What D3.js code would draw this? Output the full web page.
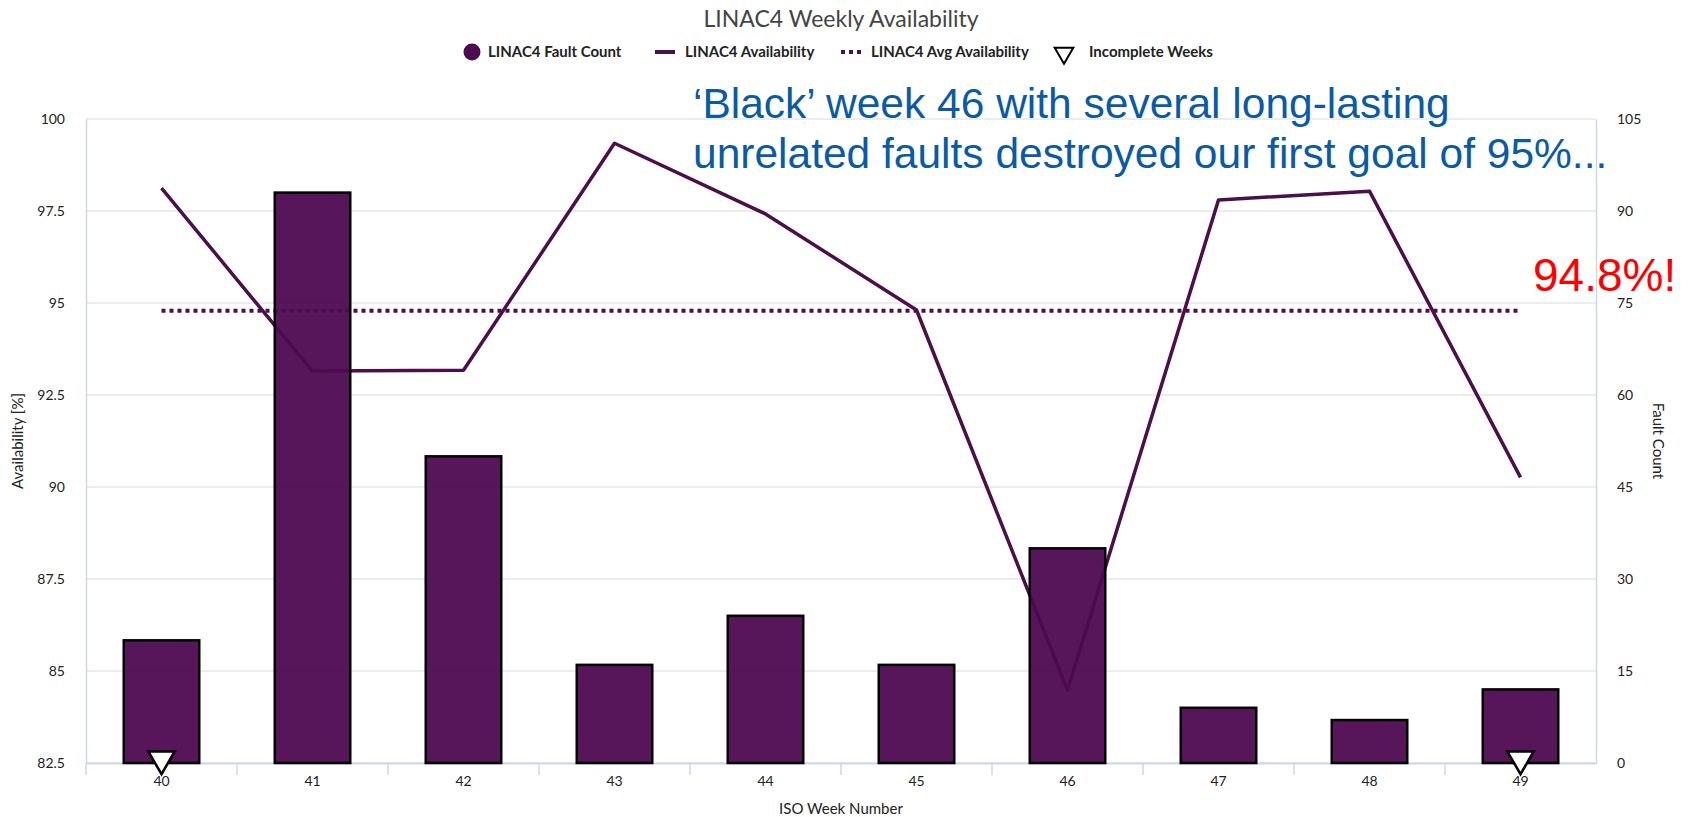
<!DOCTYPE html>
<html>
<head>
<meta charset="utf-8">
<script src="https://cdn.jsdelivr.net/npm/d3@7"></script>
<style>
  body { margin: 0; background: #fff; }
  #chart { width: 1694px; height: 817px; }
  text { font-family: Lato, "Open Sans", sans-serif; fill: #222; }
  .axis path, .axis line { stroke: #cdd6ea; }
  .axis text { font-size: 14px; fill: #222; }
</style>
</head>
<body>
<div id="chart"></div>
<script>
// data
const weeks = ["40", "41", "42", "43", "44", "45", "46", "47", "48", "49"];
const faultCount = [20, 93, 50, 16, 24, 16, 35, 9, 7, 12];
const availability = [98.12, 93.15, 93.17, 99.34, 97.42, 94.81, 84.48, 97.8, 98.04, 90.26];
const avgAvailability = 94.79;
const incompleteWeeks = ["40", "49"];
const leftTicks = [82.5, 85, 87.5, 90, 92.5, 95, 97.5, 100];
const rightTicks = [0, 15, 30, 45, 60, 75, 90, 105];

const width = 1694, height = 817;
const margin = {top: 119, left: 86, right: 98, bottom: 54};
const barColor = "#4d0a50", lineColor = "#4b104c";

const svg = d3.select("#chart").append("svg")
    .attr("width", width)
    .attr("height", height);

// scales
const xScale = d3.scaleBand()
    .domain(weeks)
    .range([margin.left, width - margin.right])
    .paddingInner(0.5)
    .paddingOuter(0.25);

const yLeft = d3.scaleLinear()
    .domain([82.5, 100])
    .range([height - margin.bottom, margin.top]);

const yRight = d3.scaleLinear()
    .domain([0, 105])
    .range([height - margin.bottom, margin.top]);

// gridlines
svg.append("g")
    .selectAll("line")
    .data(leftTicks)
    .enter()
    .append("line")
        .attr("x1", margin.left)
        .attr("x2", width - margin.right)
        .attr("y1", d => yLeft(d))
        .attr("y2", d => yLeft(d))
        .attr("stroke", "#e6e6e6")
        .attr("stroke-width", 1.5);

// axes
const xAxis = svg.append("g")
    .attr("class", "axis")
    .attr("transform", `translate(0,${height - margin.bottom})`)
    .call(d3.axisBottom(xScale).tickSize(0).tickPadding(13));
xAxis.select(".domain").attr("stroke-width", 2);

// band boundary ticks
xAxis.selectAll(".bound")
    .data(weeks)
    .enter()
    .append("line")
        .attr("class", "bound")
        .attr("x1", d => xScale(d) - xScale.bandwidth() / 2)
        .attr("x2", d => xScale(d) - xScale.bandwidth() / 2)
        .attr("y1", 0)
        .attr("y2", 12)
        .attr("stroke", "#cdd6ea")
        .attr("stroke-width", 1.5);

const leftAxis = svg.append("g")
    .attr("class", "axis")
    .attr("transform", `translate(${margin.left},0)`)
    .call(d3.axisLeft(yLeft).tickValues(leftTicks).tickSize(0).tickPadding(21)
        .tickFormat(d => d3.format("")(d)));
leftAxis.select(".domain").attr("stroke-width", 1.5);

const rightAxis = svg.append("g")
    .attr("class", "axis")
    .attr("transform", `translate(${width - margin.right},0)`)
    .call(d3.axisRight(yRight).tickValues(rightTicks).tickSize(0).tickPadding(21));
rightAxis.select(".domain").attr("stroke-width", 1.5);

// average line
svg.append("line")
    .attr("x1", xScale(weeks[0]) + xScale.bandwidth() / 2)
    .attr("x2", xScale(weeks[weeks.length - 1]) + xScale.bandwidth() / 2)
    .attr("y1", yLeft(avgAvailability))
    .attr("y2", yLeft(avgAvailability))
    .attr("stroke", lineColor)
    .attr("stroke-width", 4)
    .attr("stroke-dasharray", "4,4");

// availability line
const line = d3.line()
    .x((d, i) => xScale(weeks[i]) + xScale.bandwidth() / 2)
    .y(d => yLeft(d));

svg.append("path")
    .datum(availability)
    .attr("d", line)
    .attr("fill", "none")
    .attr("stroke", lineColor)
    .attr("stroke-width", 3.5)
    .attr("stroke-linejoin", "round");

// bars (drawn over the lines, slightly see-through)
svg.selectAll(".bar")
    .data(faultCount)
    .enter()
    .append("rect")
        .attr("class", "bar")
        .attr("x", (d, i) => xScale(weeks[i]))
        .attr("y", d => yRight(d))
        .attr("width", xScale.bandwidth())
        .attr("height", d => yRight(0) - yRight(d))
        .attr("fill", barColor)
        .attr("fill-opacity", 0.95)
        .attr("stroke", "#000")
        .attr("stroke-width", 2.5);

// incomplete week markers
const tri = d3.symbol().type(d3.symbolTriangle).size(300);
svg.selectAll(".tri")
    .data(incompleteWeeks)
    .enter()
    .append("path")
        .attr("class", "tri")
        .attr("d", tri)
        .attr("transform", d => `translate(${xScale(d) + xScale.bandwidth() / 2},${height - margin.bottom - 4}) rotate(180)`)
        .attr("fill", "#fff")
        .attr("stroke", "#000")
        .attr("stroke-width", 2.5);

// title
const plotMid = (margin.left + width - margin.right) / 2;
svg.append("text")
    .attr("x", plotMid)
    .attr("y", 27)
    .attr("text-anchor", "middle")
    .style("font-size", "23px")
    .style("fill", "#444")
    .text("LINAC4 Weekly Availability");

// legend
const legend = svg.append("g").attr("transform", "translate(0,52)");
legend.append("circle").attr("cx", 472).attr("cy", 0).attr("r", 8.5).attr("fill", barColor);
legend.append("text").attr("x", 488).attr("y", 5).text("LINAC4 Fault Count");
legend.append("line").attr("x1", 655).attr("x2", 675).attr("y1", 0).attr("y2", 0)
    .attr("stroke", lineColor).attr("stroke-width", 4);
legend.append("text").attr("x", 685).attr("y", 5).text("LINAC4 Availability");
legend.append("line").attr("x1", 841).attr("x2", 862).attr("y1", 0).attr("y2", 0)
    .attr("stroke", lineColor).attr("stroke-width", 4).attr("stroke-dasharray", "4,4");
legend.append("text").attr("x", 871).attr("y", 5).text("LINAC4 Avg Availability");
legend.append("path").attr("d", d3.symbol().type(d3.symbolTriangle).size(150))
    .attr("transform", "translate(1064,1) rotate(180)")
    .attr("fill", "#fff").attr("stroke", "#000").attr("stroke-width", 2);
legend.append("text").attr("x", 1089).attr("y", 5).text("Incomplete Weeks");
legend.selectAll("text").style("font-size", "15px").style("font-weight", "bold");

// axis labels
svg.append("text")
    .attr("x", plotMid)
    .attr("y", 814)
    .attr("text-anchor", "middle")
    .style("font-size", "15px")
    .text("ISO Week Number");

svg.append("text")
    .attr("transform", "rotate(-90)")
    .attr("x", -(margin.top + height - margin.bottom) / 2)
    .attr("y", 23)
    .attr("text-anchor", "middle")
    .style("font-size", "15px")
    .text("Availability [%]");

svg.append("text")
    .attr("transform", `translate(1653,${(margin.top + height - margin.bottom) / 2}) rotate(90)`)
    .attr("text-anchor", "middle")
    .style("font-size", "15px")
    .text("Fault Count");

// annotations
const note = svg.append("text")
    .style("font-family", "'Liberation Sans', Arial, sans-serif")
    .style("font-size", "42.5px")
    .style("fill", "#0a5aa6");
note.append("tspan").attr("x", 693).attr("y", 118).text("‘Black’ week 46 with several long-lasting");
note.append("tspan").attr("x", 693).attr("y", 168).text("unrelated faults destroyed our first goal of 95%...");

svg.append("text")
    .attr("x", 1533)
    .attr("y", 291)
    .style("font-family", "'Liberation Sans', Arial, sans-serif")
    .style("font-size", "46px")
    .style("fill", "#ff0000")
    .text("94.8%!");
</script>
</body>
</html>
